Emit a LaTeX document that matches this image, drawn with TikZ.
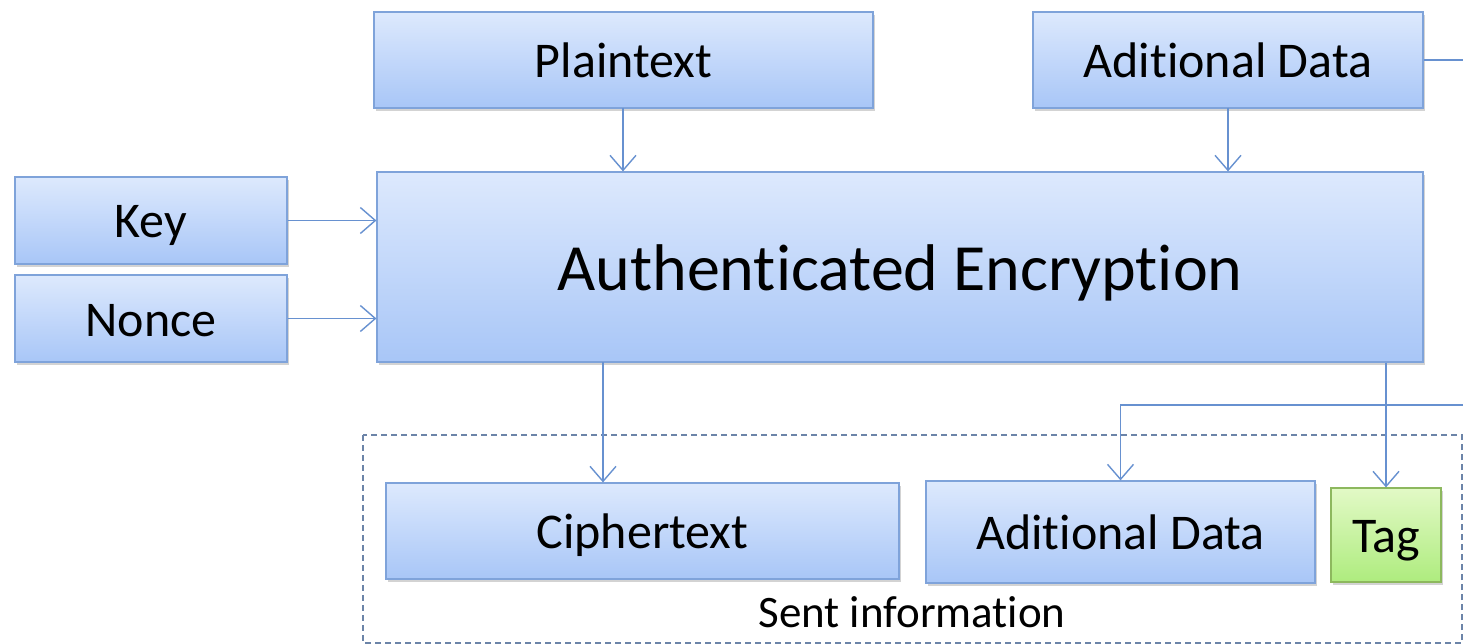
\documentclass[tikz,border=0pt]{standalone}
\usepackage{fontspec}
\setmainfont[Ligatures={NoCommon}]{Carlito}
\usetikzlibrary{arrows.meta,shadows}
\definecolor{boxtop}{HTML}{DDE9FD}
\definecolor{boxbot}{HTML}{A8C6F7}
\definecolor{boxline}{HTML}{7FA3DA}
\definecolor{greentop}{HTML}{E2F9C6}
\definecolor{greenbot}{HTML}{AEEC7E}
\definecolor{greenline}{HTML}{8DB85E}
\definecolor{wire}{HTML}{6791D0}
\definecolor{dashc}{HTML}{6C84A8}
\tikzset{
  bluebox/.style={rectangle, draw=boxline, line width=1.2pt, top color=boxtop, bottom color=boxbot,
    inner sep=0pt, font=\fontsize{50}{56}\selectfont, text height=47pt, text depth=12pt,
    drop shadow={shadow xshift=2pt, shadow yshift=-3pt, opacity=0.35}},
  greenbox/.style={bluebox, draw=greenline, top color=greentop, bottom color=greenbot},
  wireline/.style={draw=wire, line width=1.4pt},
  arr/.style={wireline, -{Straight Barb[length=15pt,width=26pt,line width=1.4pt]}},
}
\begin{document}
\begin{tikzpicture}[x=1pt,y=-1pt]
\useasboundingbox (0,0) rectangle (1463,644);
\draw[dashc, line width=1.3pt, dash pattern=on 6pt off 4pt] (363,435) rectangle (1462,643);
\node[bluebox, minimum width=499pt, minimum height=96pt] (plain) at (623.5,60) {Plaintext};
\node[bluebox, minimum width=390pt, minimum height=96pt] (adtop) at (1228,60) {Aditional Data};
\node[bluebox, minimum width=272pt, minimum height=87pt] (key) at (151,220.5) {Key};
\node[bluebox, minimum width=272pt, minimum height=87pt] (nonce) at (151,318.5) {Nonce};
\node[bluebox, minimum width=1046pt, minimum height=190pt, font=\fontsize{66}{72}\selectfont, text height=62pt, text depth=16pt] (ae) at (900,267) {Authenticated Encryption};
\node[bluebox, minimum width=513pt, minimum height=96pt] (cipher) at (642.5,531) {Ciphertext};
\node[bluebox, minimum width=389pt, minimum height=102pt] (adbot) at (1120.5,532) {Aditional Data};
\node[greenbox, minimum width=110pt, minimum height=94pt] (tag) at (1386,535) {Tag};
\node[font=\fontsize{45}{50}\selectfont, anchor=base, inner sep=0pt] (sent) at (912,627) {Sent information};
\coordinate (pt) at (623,108);
\coordinate (at) at (1228,108);
\coordinate (c1) at (603,362);
\coordinate (r0) at (1463,60);
\coordinate (r1) at (1463,405);
\draw[arr] (pt) -- (pt |- ae.north);
\draw[arr] (at) -- (at |- ae.north);
\draw[arr] (key.east) -- (key.east -| ae.west);
\draw[arr] (nonce.east) -- (nonce.east -| ae.west);
\draw[arr] (c1) -- (c1 |- cipher.north);
\draw[arr] (ae.south -| tag.north) -- (tag.north);
\draw[wireline] (adtop.east) -- (r0);
\draw[arr] (r1) -| (adbot.north);
\end{tikzpicture}
\end{document}
